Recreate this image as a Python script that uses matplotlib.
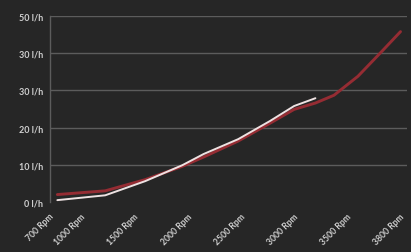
import matplotlib
matplotlib.use('Agg')
import matplotlib.pyplot as plt

# fuel consumption vs engine speed
red_rpm = [750, 1200, 1575, 1925, 2125, 2450, 2750, 2975, 3175, 3350, 3575, 3800, 3975]
red_fuel = [2.0, 3.0, 6.0, 9.6, 12.1, 16.4, 21.2, 24.9, 26.6, 28.7, 33.8, 40.5, 45.8]
white_rpm = [750, 1200, 1575, 1925, 2125, 2450, 2750, 2975, 3175]
white_fuel = [0.5, 1.8, 5.6, 9.9, 12.9, 16.9, 21.8, 25.8, 27.9]

tick_pos = [700, 1000, 1500, 2000, 2500, 3000, 3500, 4000]
tick_labels = ['700 Rpm', '1000 Rpm', '1500 Rpm', '2000 Rpm', '2500 Rpm',
               '3000 Rpm', '3500 Rpm', '3800 Rpm']
y_ticks = [0, 10, 20, 30, 40, 50]
y_labels = ['0 l/h', '10 l/h', '20 l/h', '30 l/h', '30 l/h', '50 l/h']

bg = '#262626'
txt = '#cfcfcf'
grid = '#5c5c5c'

plt.rcParams['font.family'] = ['Lato', 'DejaVu Sans']

fig = plt.figure(figsize=(4.11, 2.53), dpi=100, facecolor=bg)
ax = fig.add_axes([50/411, 50/253, 357/411, 186/253], facecolor=bg)

ax.plot(red_rpm, red_fuel, color='#952c33', lw=2.1, solid_capstyle='round', zorder=3)
ax.plot(white_rpm, white_fuel, color='#eee2e2', lw=1.4, solid_capstyle='round', zorder=4)

ax.set_xlim(681, 4036)
ax.set_ylim(0, 50)
ax.set_yticks(y_ticks)
ax.set_yticklabels(y_labels, color=txt, fontsize=6.5, fontweight='bold')
ax.set_xticks(tick_pos)
ax.set_xticklabels(tick_labels, color=txt, fontsize=6.2, fontweight='bold',
                   rotation=45, ha='right', va='center', rotation_mode='anchor')
ax.tick_params(axis='both', length=0, pad=5)
ax.tick_params(axis='x', pad=9)

for v in y_ticks[1:]:
    ax.axhline(v, color=grid, lw=1.0, zorder=1)

for s in ['top', 'right', 'bottom']:
    ax.spines[s].set_visible(False)
ax.spines['left'].set_color(grid)
ax.spines['left'].set_linewidth(1.0)

fig.savefig('out.png', dpi=100, facecolor=bg)
